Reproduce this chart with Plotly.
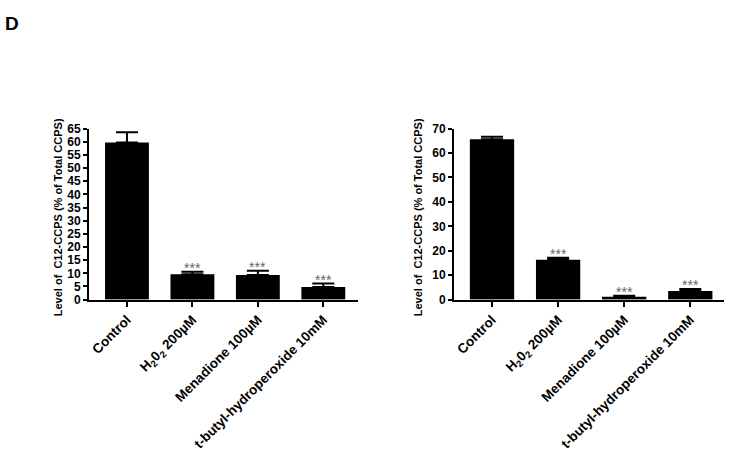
import plotly.graph_objects as go

categories = ["Control", "H<sub>2</sub>0<sub>2</sub> 200µM", "Menadione 100µM", "t-butyl-hydroperoxide 10mM"]
left_values = [59.7, 9.6, 9.4, 4.8]
left_errors = [3.9, 1.0, 1.6, 1.3]
right_values = [65.6, 16.3, 1.2, 3.5]
right_errors = [1.1, 0.8, 0.4, 0.8]
left_ticks = list(range(0, 70, 5))
right_ticks = list(range(0, 80, 10))
stars = ["", "***", "***", "***"]
y_title = "Level of  C12-CCPS (% of Total CCPS)"

FONT = "Arial, 'Liberation Sans', sans-serif"
W, H = 729, 451

fig = go.Figure()
for vals, errs, xa, ya in [(left_values, left_errors, "x", "y"), (right_values, right_errors, "x2", "y2")]:
    fig.add_trace(go.Bar(
        x=categories, y=vals, xaxis=xa, yaxis=ya,
        marker=dict(color="black", line=dict(width=0)),
        error_y=dict(type="data", array=errs, arrayminus=[0]*len(errs), symmetric=False,
                     color="black", thickness=2, width=11),
        width=0.67, showlegend=False,
    ))
    for c, v, e, s in zip(categories, vals, errs, stars):
        if s:
            fig.add_annotation(x=c, y=v + e, xref=xa, yref=ya, text=s, showarrow=False,
                               yanchor="bottom", yshift=-6,
                               font=dict(family=FONT, size=14, color="#666666"))

def px_x(p):
    return p / W

def px_y(p):
    return (H - p) / H

axis_common = dict(showline=True, linecolor="black", linewidth=2, ticks="outside",
                   tickcolor="black", tickwidth=2, showgrid=False, zeroline=False)

fig.update_layout(
    width=W, height=H, margin=dict(l=0, r=0, t=0, b=0),
    paper_bgcolor="white", plot_bgcolor="white",
    font=dict(family=FONT, color="black"),
    xaxis=dict(domain=[px_x(89), px_x(358)], range=[-0.58, 3.53], tickangle=-45,
               ticklen=5, **axis_common),
    yaxis=dict(domain=[px_y(302), px_y(125.5)], range=[0, 65], tickvals=left_ticks,
               ticklen=4, **axis_common),
    xaxis2=dict(domain=[px_x(454), px_x(724)], range=[-0.575, 3.51], tickangle=-45,
                ticklen=5, anchor="y2", **axis_common),
    yaxis2=dict(domain=[px_y(302), px_y(125.5)], range=[0, 70], tickvals=right_ticks,
                ticklen=4, anchor="x2", **axis_common),
)

fig.update_xaxes(tickfont=dict(family=FONT, size=13.5, color="black", weight="bold"))
fig.update_yaxes(tickfont=dict(family=FONT, size=12, color="black", weight="bold"))

for xc in [58, 418]:
    fig.add_annotation(x=px_x(xc), y=px_y(217), xref="paper", yref="paper", text=y_title,
                       showarrow=False, textangle=-90, xanchor="center", yanchor="middle",
                       font=dict(family=FONT, size=11, color="black", weight="bold"))

fig.add_annotation(x=px_x(3), y=px_y(17), xref="paper", yref="paper", text="D",
                   showarrow=False, xanchor="left", yanchor="middle",
                   font=dict(family=FONT, size=19, color="black", weight="bold"))

fig.write_html("out.html", config={"displayModeBar": False},
               post_script="document.body.style.margin='0px';")
